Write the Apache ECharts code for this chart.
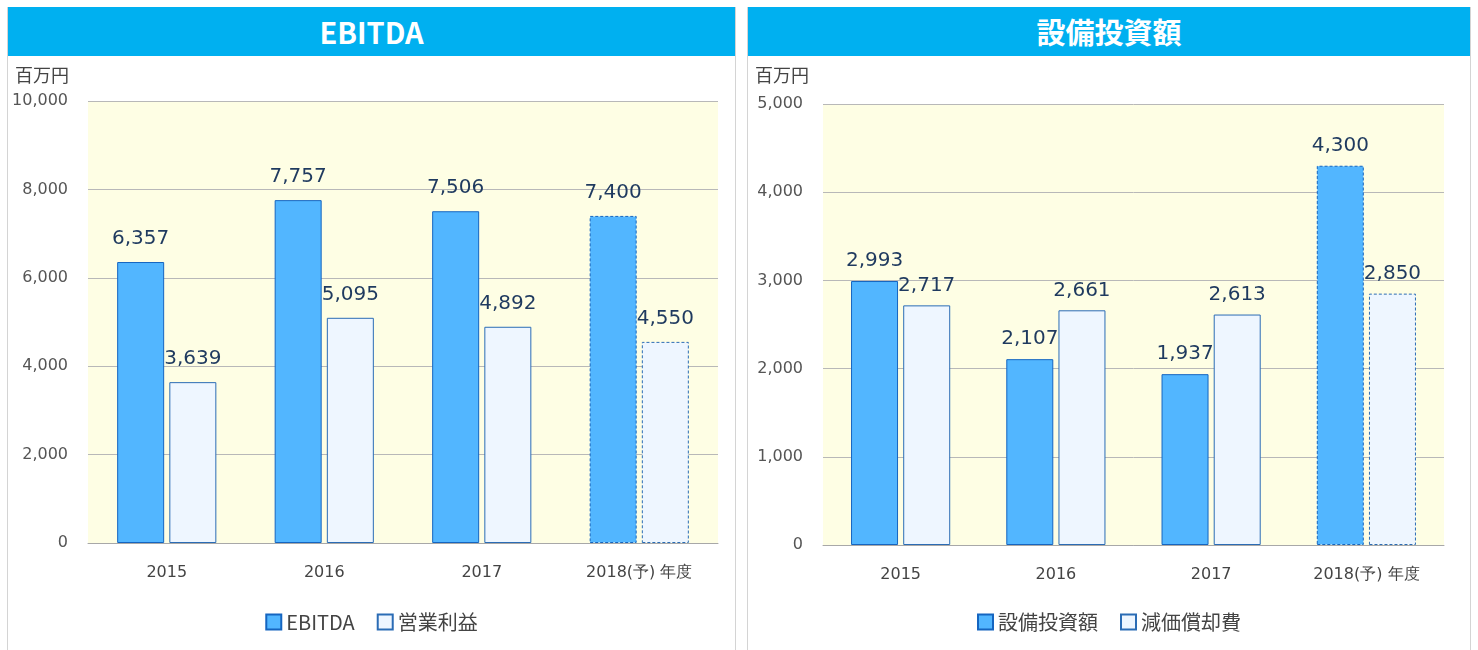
<!DOCTYPE html>
<html>
<head>
<meta charset="utf-8">
<script src="https://cdn.jsdelivr.net/npm/echarts@6/dist/echarts.min.js"></script>
<style>
  body { margin: 0; background: #fff; font-family: "Noto Sans CJK JP", sans-serif; }
  .panel { position: absolute; top: 7px; height: 660px; border-left: 1px solid #d4d4d4; border-right: 1px solid #d4d4d4; box-sizing: border-box; }
  .head { height: 49px; line-height: 49px; background: #00b0f0; color: #fff; text-align: center; font-size: 29px; font-weight: bold; }
  .chart { position: absolute; top: 49px; left: 0; right: 0; height: 594px; }
</style>
</head>
<body>
<div class="panel" style="left:7px;width:729px;">
  <div class="head">EBITDA</div>
  <div class="chart" id="c1"></div>
</div>
<div class="panel" style="left:747px;width:724px;">
  <div class="head">設備投資額</div>
  <div class="chart" id="c2"></div>
</div>
<script>
// データ
const years = ['2015', '2016', '2017', '2018(予) 年度'];

const ebitda = [6357, 7757, 7506, 7400];
const operatingProfit = [3639, 5095, 4892, 4550];

const capex = [2993, 2107, 1937, 4300];
const depreciation = [2717, 2661, 2613, 2850];

const unitLabel = '百万円';

const NUM_FONT = '"DejaVu Sans", Verdana, sans-serif';
const JP_FONT = '"Noto Sans CJK JP", sans-serif';

// 予想値(予)は破線で描く
function withForecast(values) {
  return values.map((v, i) => years[i].indexOf('予') >= 0
    ? { value: v, itemStyle: { borderType: [3, 2] } }
    : v);
}

function barSeries(name, values, fill, border, dist) {
  return {
    name: name,
    type: 'bar',
    barWidth: 47,
    barGap: '11%',
    data: withForecast(values),
    itemStyle: { color: fill, borderColor: border, borderWidth: 1 },
    label: {
      show: true,
      position: 'top',
      distance: dist,
      color: '#1f3a5f',
      fontFamily: NUM_FONT,
      fontSize: 20,
      formatter: p => p.value.toLocaleString('en-US')
    }
  };
}

function buildOption(names, a, b, max, interval, grid, dist) {
  return {
    animation: false,
    textStyle: { fontFamily: JP_FONT },
    graphic: [{
      type: 'text', left: 7, top: 10,
      style: { text: unitLabel, fontSize: 18, fill: '#444', fontFamily: JP_FONT }
    }],
    grid: Object.assign({
      show: true, backgroundColor: '#fefee4', borderWidth: 0
    }, grid),
    legend: {
      bottom: 13,
      itemWidth: 15,
      itemHeight: 15,
      itemGap: 22,
      icon: 'rect',
      textStyle: { fontSize: 20, color: '#444', fontFamily: JP_FONT },
      data: names
    },
    xAxis: {
      type: 'category',
      data: years,
      axisTick: { show: false },
      axisLine: { lineStyle: { color: '#a8a8a8' } },
      axisLabel: { margin: 22, fontSize: 16, color: '#444', fontFamily: NUM_FONT }
    },
    yAxis: {
      type: 'value',
      min: 0,
      max: max,
      interval: interval,
      axisLabel: {
        margin: 20, fontSize: 16, color: '#555', fontFamily: NUM_FONT,
        formatter: v => v.toLocaleString('en-US')
      },
      splitLine: { lineStyle: { color: '#b8b8b8' } }
    },
    series: [
      barSeries(names[0], a, '#52b6ff', '#1565c0', dist),
      barSeries(names[1], b, '#eef6ff', '#2b6cb5', dist)
    ]
  };
}

const chart1 = echarts.init(document.getElementById('c1'));
chart1.setOption(buildOption(['EBITDA', '営業利益'], ebitda, operatingProfit, 10000, 2000,
  { left: 80, right: 17, top: 45, bottom: 107 }, 13));

const chart2 = echarts.init(document.getElementById('c2'));
chart2.setOption(buildOption(['設備投資額', '減価償却費'], capex, depreciation, 5000, 1000,
  { left: 75, right: 26, top: 48, bottom: 105 }, 10));
</script>
</body>
</html>
